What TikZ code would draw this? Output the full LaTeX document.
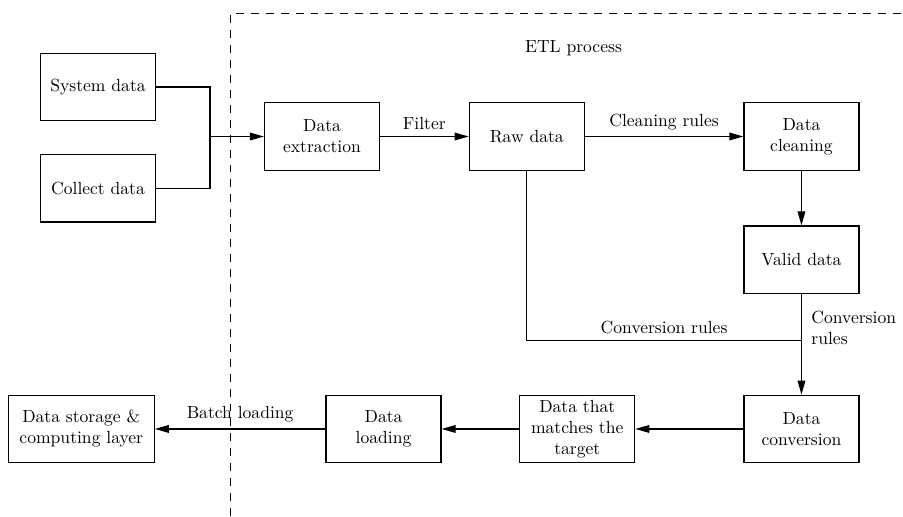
\documentclass[tikz,border=0pt]{standalone}
\usetikzlibrary{arrows.meta,positioning,calc}
\begin{document}
\begin{tikzpicture}
[node distance=1cm,
block/.style={shape=rectangle,draw=black,line width=0.7pt,minimum width=2.3cm,minimum height=1.35cm,align=center,inner sep=2pt},
wideblock/.style={block,minimum width=2.92cm},
myedge/.style={line width=0.7pt},
dedge/.style={myedge,-{Triangle[length=8pt,width=4.4pt]}},
border/.style={line width=0.6pt,dash pattern=on 4.5pt off 4pt}]

\useasboundingbox (0,0) rectangle (18.06,10.32);

% sources
\node (sys) [block] at (1.96,8.58) {System data};
\node (col) [block,below=0.65cm of sys] {Collect data};

% ETL chain
\node (ext) [block] at (6.44,7.59) {Data\\extraction};
\node (raw) [block,right=1.77cm of ext] {Raw data};
\node (cln) [block,right=3.17cm of raw] {Data\\cleaning};
\node (val) [block,below=1.09cm of cln] {Valid data};
\node (cnv) [block,below=2.01cm of val] {Data\\conversion};
\node (mat) [block,left=2.16cm of cnv] {Data that\\matches the\\target};
\node (lod) [block,left=1.55cm of mat] {Data\\loading};
\node (sto) [wideblock,left=3.41cm of lod] {Data storage \&\\computing layer};

\coordinate (mrg) at (4.20,7.59);
\coordinate (jn) at ($(val.south)+(0,-0.93)$);

\draw[myedge] (sys.east) -| (mrg) |- (col.east);
\draw[dedge] (mrg) -- (ext);
\draw[dedge] (ext) -- (raw) node[midway,above] {Filter};
\draw[dedge] (raw) -- (cln) node[midway,above] {Cleaning rules};
\draw[dedge] (cln) -- (val);
\draw[myedge] (raw.south) |- node[pos=0.75,above] {Conversion rules} (jn);
\draw[dedge] (val) -- node[pos=0.34,right,xshift=2pt,align=left] {Conversion\\rules} (cnv);
\draw[dedge] (cnv) -- (mat);
\draw[dedge] (mat) -- (lod);
\draw[dedge] (lod) -- node[above] {Batch loading} (sto);

% ETL boundary
\coordinate (bl) at (4.61,0);
\coordinate (tr) at (18.06,10.05);
\draw[border] (bl) |- (tr);
\node (etl) at (11.47,9.35) {ETL process};

\end{tikzpicture}
\end{document}
